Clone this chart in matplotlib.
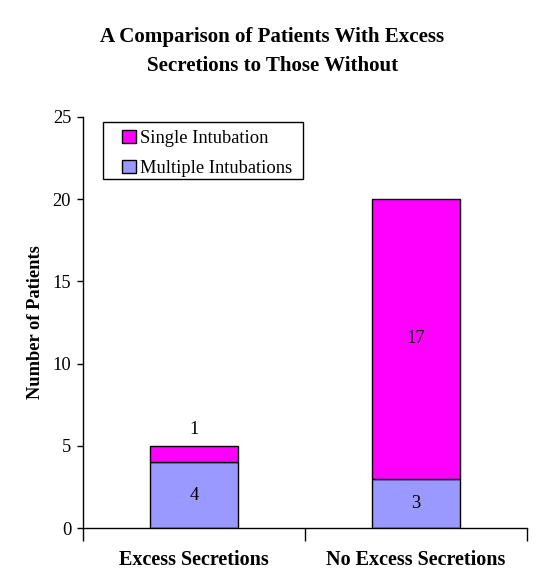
import numpy as np
import matplotlib.pyplot as plt
from matplotlib.patches import Rectangle

plt.rcParams['font.family'] = ['Liberation Serif', 'DejaVu Serif']

categories = ['Excess Secretions', 'No Excess Secretions']
multiple = [4, 3]
single = [1, 17]

fig = plt.figure(figsize=(5.45, 5.79), dpi=100)
ax = fig.add_axes([0.1523, 0.088, 0.8147, 0.71])

x = np.array([0.5, 1.5])
w = 0.4
b1 = ax.bar(x, multiple, w, color='#9999FF', edgecolor='black', linewidth=1,
            label='Multiple Intubations')
b2 = ax.bar(x, single, w, bottom=multiple, color='#FF00FF', edgecolor='black',
            linewidth=1, label='Single Intubation')

# value labels
for xi, m, s in zip(x, multiple, single):
    ax.text(xi, m / 2, str(m), ha='center', va='center', fontsize=13.3)
    if s < 2:
        ax.text(xi, m + s + 0.5, str(s), ha='center', va='bottom', fontsize=13.3)
    else:
        ax.text(xi, m + s / 2, str(s), ha='center', va='center', fontsize=13.3)

ax.set_xlim(0, 2)
ax.set_ylim(0, 25)
ax.set_yticks([0, 5, 10, 15, 20, 25])
ax.tick_params(axis='y', labelsize=13.3, length=4.5, direction='out', width=1, pad=4)
ax.set_xticks(x)
ax.set_xticklabels(categories, fontsize=14.5, fontweight='bold')
ax.tick_params(axis='x', length=0, pad=16)
ax.set_xticks([0, 1, 2], minor=True)
ax.tick_params(axis='x', which='minor', length=9, width=1, direction='out')

for sp in ['top', 'right']:
    ax.spines[sp].set_visible(False)
ax.spines['left'].set_linewidth(1)
ax.spines['bottom'].set_linewidth(1)

ax.set_ylabel('Number of Patients', fontsize=13.3, fontweight='bold', labelpad=6)

# legend: frame drawn separately so the box matches the original size
ax.add_patch(Rectangle((0.045, 0.849), 0.45, 0.139, transform=ax.transAxes,
                       facecolor='white', edgecolor='black', linewidth=1,
                       zorder=4, clip_on=False))
handles = [b2, b1]
leg = ax.legend(handles, ['Single Intubation', 'Multiple Intubations'],
                loc='center left', bbox_to_anchor=(0.088, 0.9105), fontsize=13.3,
                frameon=False, handlelength=0.75, handleheight=0.7,
                handletextpad=0.2, borderpad=0, labelspacing=0.7,
                borderaxespad=0)
leg.set_zorder(5)

fig.text(0.5, 0.911, 'A Comparison of Patients With Excess\nSecretions to Those Without',
         ha='center', va='center', fontsize=15.1, fontweight='bold', linespacing=1.55)

fig.savefig('out.png', dpi=100)
